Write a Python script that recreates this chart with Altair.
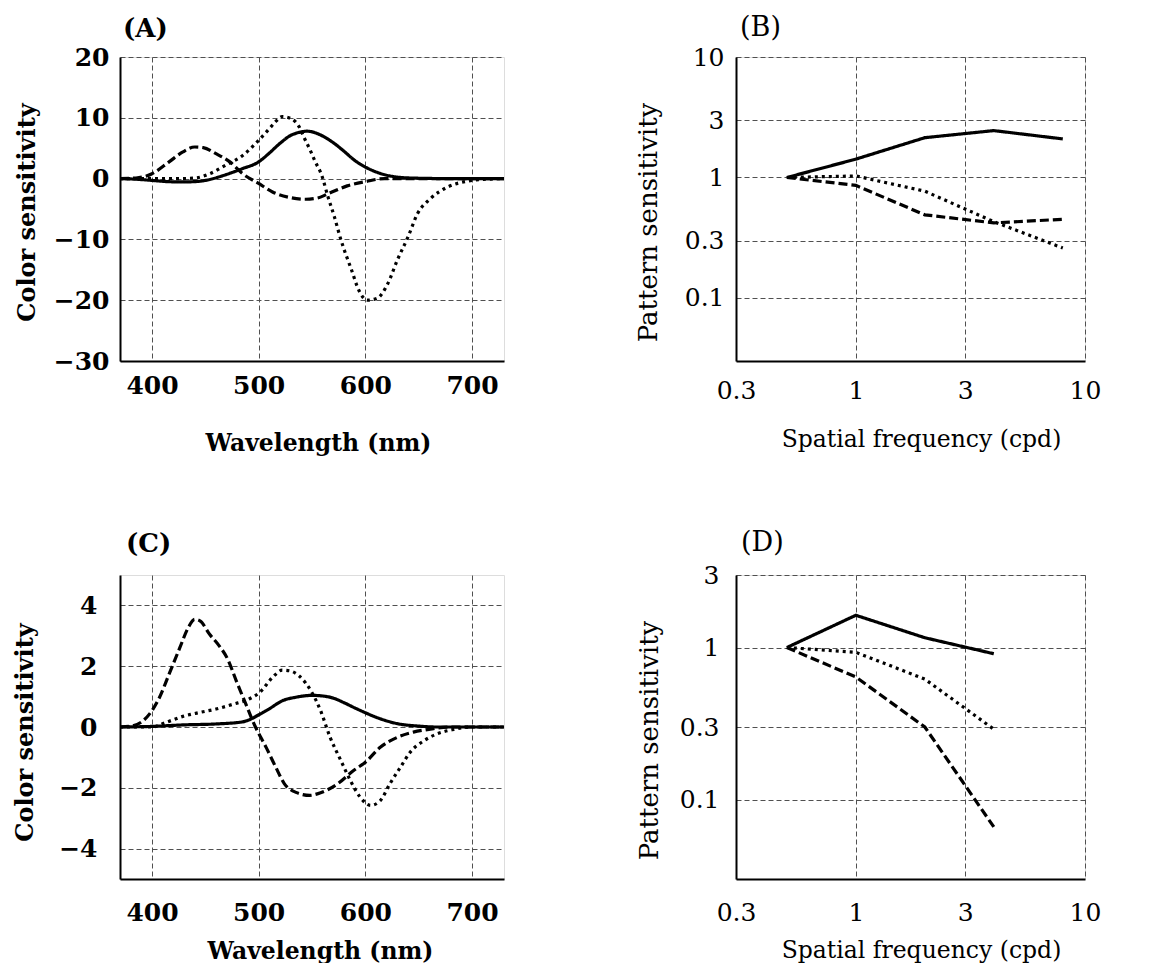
import altair as alt
import pandas as pd

# ---------------- Panel A (wavelength, colour sensitivity) ----------------
a_solid_nm = [370, 385, 400, 415, 428, 440, 450, 465, 475, 485, 500, 510, 520, 530, 538, 545, 552, 560, 570, 580, 590, 600, 610, 620, 630, 645, 680, 730]
a_solid_val = [0, -0.1, -0.3, -0.5, -0.55, -0.5, -0.3, 0.4, 1.0, 1.65, 2.75, 4.2, 5.8, 7.1, 7.6, 7.8, 7.6, 7.0, 5.9, 4.5, 3.0, 1.9, 1.1, 0.55, 0.25, 0.08, 0, 0]
a_dashed_nm = [370, 385, 400, 416, 429, 440, 448, 460, 473, 485, 500, 513, 529, 544, 555, 565, 583, 600, 618, 640, 680, 730]
a_dashed_val = [0, 0.1, 0.8, 2.75, 4.4, 5.2, 5.1, 4.1, 2.75, 0.8, -0.8, -2.2, -3.1, -3.4, -3.2, -2.5, -1.2, -0.5, 0, 0, 0, 0]
a_dotted_nm = [370, 400, 425, 441, 454, 469, 485, 500, 510, 516, 522, 530, 538, 543, 548, 553, 559, 565, 571, 577, 587, 594, 602, 611, 621, 630, 640, 649, 661, 677, 696, 714, 730]
a_dotted_val = [0, 0, 0, 0.1, 0.8, 2.2, 3.8, 6.3, 8.2, 9.4, 10.2, 9.9, 8.5, 6.6, 4.8, 2.8, 0.6, -3.0, -6.3, -10, -15, -18.4, -20, -19.7, -17.3, -13.4, -9.6, -5.75, -3.3, -1.4, -0.4, -0.1, 0]

# ---------------- Panel C ----------------
c_solid_nm = [370, 400, 430, 460, 485, 492, 500, 510, 522, 535, 550, 560, 570, 580, 590, 600, 614, 630, 650, 667, 730]
c_solid_val = [0, 0.02, 0.07, 0.1, 0.17, 0.25, 0.4, 0.6, 0.86, 0.98, 1.04, 1.02, 0.95, 0.8, 0.63, 0.47, 0.27, 0.11, 0.03, 0, 0]
c_dashed_nm = [370, 382, 400, 407, 416, 426, 434, 440, 445, 454, 463, 471, 479, 488, 497, 507, 516, 524, 535, 548, 555, 574, 589, 600, 614, 630, 645, 661, 679, 730]
c_dashed_val = [0, 0.04, 0.54, 0.97, 1.74, 2.6, 3.27, 3.54, 3.49, 3.05, 2.67, 2.23, 1.52, 0.75, 0, -0.67, -1.32, -1.86, -2.15, -2.25, -2.2, -1.87, -1.43, -1.16, -0.67, -0.34, -0.17, -0.07, 0, 0]
c_dotted_nm = [370, 400, 413, 429, 445, 460, 476, 491, 501, 513, 522, 529, 538, 544, 549, 558, 567, 577, 586, 595, 605, 614, 623, 633, 642, 655, 667, 683, 698, 730]
c_dotted_val = [0, 0, 0.15, 0.35, 0.48, 0.59, 0.75, 0.92, 1.14, 1.63, 1.87, 1.85, 1.68, 1.45, 1.19, 0.54, -0.34, -1.1, -1.76, -2.3, -2.58, -2.42, -1.87, -1.32, -0.83, -0.45, -0.23, -0.08, 0, 0]

# ---------------- Panel B (spatial frequency, pattern sensitivity) ----------------
b_cpd = [0.5, 1, 2, 4, 8]
b_solid = [1, 1.42, 2.14, 2.45, 2.09]
b_dashed = [1, 0.86, 0.49, 0.42, 0.45]
b_dotted = [1, 1.03, 0.77, 0.43, 0.26]

# ---------------- Panel D ----------------
d_cpd = [0.5, 1, 2, 4]
d_solid = [1, 1.63, 1.16, 0.91]
d_dashed = [1, 0.64, 0.30, 0.066]
d_dotted = [1, 0.93, 0.62, 0.29]

# tick values
wl_ticks = [400, 500, 600, 700]
a_yticks = [-30, -20, -10, 0, 10, 20]
c_yticks = [-4, -2, 0, 2, 4]
sf_ticks = [0.3, 1, 3, 10]
b_yticks = [0.1, 0.3, 1, 3, 10]
d_yticks = [0.1, 0.3, 1, 3]

series_names = ["solid", "dashed", "dotted"]
dash_range = [[1, 0], [9, 4], [3, 4]]

FONT = "DejaVu Serif"
GRID = "#505050"


def make_df(pairs):
    rows = []
    for name, xs, ys in pairs:
        for x, y in zip(xs, ys):
            rows.append({"series": name, "x": x, "y": y})
    return pd.DataFrame(rows)


def panel(df, xscale, yscale, xvals, yvals, xtitle, ytitle, title, weight,
          interp, xlabpad, ylabpad, xtitle_x, xtitle_y, ytitle_x, ytitle_y,
          title_dx, title_offset, fmt, ytsize, ttsize):
    xaxis = alt.Axis(values=xvals, format=fmt, grid=True, gridDash=[5, 3], gridColor=GRID,
                     gridWidth=1, gridOpacity=1, ticks=False, tickSize=0, domain=True,
                     domainColor="black", domainWidth=2, labelFont=FONT, labelFontSize=25,
                     labelFontWeight=weight, labelColor="black", labelPadding=xlabpad,
                     labelFlush=False, labelOverlap=False, title=xtitle, titleFont=FONT,
                     titleFontSize=23.5, titleFontWeight=weight, titleColor="black",
                     titleX=xtitle_x, titleY=xtitle_y, titleAlign="center",
                     titleBaseline="top")
    yaxis = alt.Axis(values=yvals, format=fmt, grid=True, gridDash=[5, 3], gridColor=GRID,
                     gridWidth=1, gridOpacity=1, ticks=False, tickSize=0, domain=True,
                     domainColor="black", domainWidth=2, labelFont=FONT, labelFontSize=25,
                     labelFontWeight=weight, labelColor="black", labelPadding=ylabpad,
                     labelFlush=False, labelOverlap=False, title=ytitle, titleFont=FONT,
                     titleFontSize=ytsize, titleFontWeight=weight, titleColor="black",
                     titleX=ytitle_x, titleY=ytitle_y, titleAngle=270, titleAlign="center",
                     titleBaseline="bottom")
    return alt.Chart(df).mark_line(color="black", strokeWidth=3.2, interpolate=interp, clip=True).encode(
        x=alt.X("x:Q", scale=xscale, axis=xaxis),
        y=alt.Y("y:Q", scale=yscale, axis=yaxis),
        strokeDash=alt.StrokeDash("series:N", scale=alt.Scale(domain=series_names, range=dash_range), legend=None),
        detail="series:N",
    ).properties(
        width=384 if xscale.type != "log" else 349,
        height=304,
        title=alt.TitleParams(text=title, anchor="start", frame="group", dx=title_dx,
                              offset=title_offset, baseline="alphabetic", font=FONT,
                              fontSize=ttsize, fontWeight=weight, color="black"),
    )


df_a = make_df([("solid", a_solid_nm, a_solid_val), ("dashed", a_dashed_nm, a_dashed_val), ("dotted", a_dotted_nm, a_dotted_val)])
df_c = make_df([("solid", c_solid_nm, c_solid_val), ("dashed", c_dashed_nm, c_dashed_val), ("dotted", c_dotted_nm, c_dotted_val)])
df_b = make_df([("solid", b_cpd, b_solid), ("dashed", b_cpd, b_dashed), ("dotted", b_cpd, b_dotted)])
df_d = make_df([("solid", d_cpd, d_solid), ("dashed", d_cpd, d_dashed), ("dotted", d_cpd, d_dotted)])

wl_scale = alt.Scale(domain=[370, 730], nice=False, zero=False)
sf_scale = alt.Scale(type="log", domain=[0.3, 10], nice=False)

pA = panel(df_a, wl_scale, alt.Scale(domain=[-30, 20], nice=False, zero=False), wl_ticks, a_yticks,
           "Wavelength (nm)", "Color sensitivity", "(A)", "bold", "monotone",
           12, 11, 198, 70, -81, 155, 3, -18, "d", 24, 26)
pB = panel(df_b, sf_scale, alt.Scale(type="log", domain=[0.03, 10], nice=False), sf_ticks, b_yticks,
           "Spatial frequency (cpd)", "Pattern sensitivity", "(B)", "normal", "linear",
           17, 12, 185, 66, -75, 165, 4, -18, "~g", 26, 27)
pC = panel(df_c, wl_scale, alt.Scale(domain=[-5, 5], nice=False, zero=False), wl_ticks, c_yticks,
           "Wavelength (nm)", "Color sensitivity", "(C)", "bold", "monotone",
           21, 23, 200, 60, -83, 157, 6, -3, "d", 24, 26)
pD = panel(df_d, sf_scale, alt.Scale(type="log", domain=[0.03, 3], nice=False), sf_ticks, d_yticks,
           "Spatial frequency (cpd)", "Pattern sensitivity", "(D)", "normal", "linear",
           21, 17, 185, 59, -74, 165, 5, -15, "~g", 26, 27)

chart = alt.concat(pA, pB, pC, pD, columns=2, spacing={"row": 214, "column": 232}).properties(
    bounds="flush",
    padding={"left": 4, "top": 5, "right": 5, "bottom": 0},
).configure_view(stroke="black", strokeWidth=1.5).configure(background="white")

chart.save("out.html", embed_options={"renderer": "svg", "actions": False})
